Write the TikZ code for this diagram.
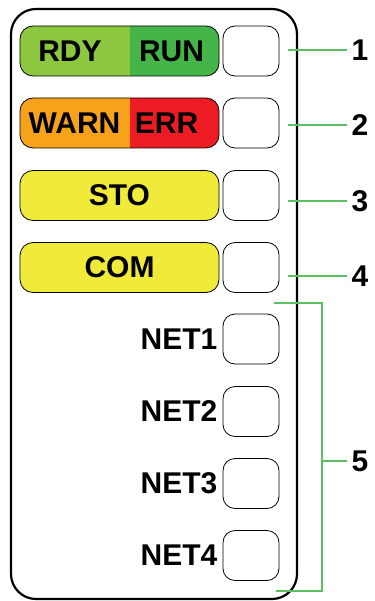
\documentclass[tikz,border=0pt]{standalone}
\usepackage{fontspec}
\setmainfont{Liberation Sans}
\usetikzlibrary{positioning}
\definecolor{rdygreen}{HTML}{8DC63F}
\definecolor{rungreen}{HTML}{45B549}
\definecolor{warnorange}{HTML}{F7A21B}
\definecolor{errred}{HTML}{ED1C24}
\definecolor{ledyellow}{HTML}{F0EA3A}
\definecolor{callout}{HTML}{5CBF60}
\begin{document}
\begin{tikzpicture}[x=1pt,y=-1pt,panel/.style={draw,line width=2.2pt,rounded corners=25pt,minimum width=286pt,minimum height=590pt},pill/.style={draw,line width=0.8pt,rounded corners=13pt,minimum width=199pt,minimum height=50pt,font=\bfseries\fontsize{30}{30}\selectfont},lamp/.style={draw,line width=0.8pt,rounded corners=12pt,minimum width=56pt,minimum height=50pt},txt/.style={font=\bfseries\fontsize{30}{30}\selectfont,inner sep=0pt},num/.style={font=\bfseries\fontsize{30}{30}\selectfont,inner sep=4pt},lead/.style={callout,line width=1.5pt},halves/.style={path picture={\fill[#1,sharp corners] ([xshift=10.5pt]path picture bounding box.north) rectangle (path picture bounding box.south east);}}]
\useasboundingbox (0,0) rectangle (374,601);
\node[panel] (panel) at (154,304) {};
\node[pill,fill=rdygreen,halves=rungreen] (ready) at (119.5,51) {};
\node[txt] (rdy) at (70,51) {RDY};
\node[txt] (run) at (171.5,51) {RUN};
\node[pill,fill=warnorange,halves=errred] (fault) at (119.5,123) {};
\node[txt] (warn) at (74.5,123) {WARN};
\node[txt] (err) at (166.5,123) {ERR};
\node[pill,fill=ledyellow] (sto) at (119.5,195.5) {STO};
\node[pill,fill=ledyellow] (com) at (119.5,267.5) {COM};
\node[lamp] (lamp1) at (251,51) {};
\node[lamp] (lamp2) at (251,123) {};
\node[lamp] (lamp3) at (251,195.5) {};
\node[lamp] (lamp4) at (251,267.5) {};
\node[lamp] (net1) at (251,339) {};
\node[lamp] (net2) at (251,411.5) {};
\node[lamp] (net3) at (251,483.5) {};
\node[lamp] (net4) at (251,555.5) {};
\node[txt,left=5pt of net1] (net1txt) {NET1};
\node[txt,left=5pt of net2] (net2txt) {NET2};
\node[txt,left=5pt of net3] (net3txt) {NET3};
\node[txt,left=5pt of net4] (net4txt) {NET4};
\node[num] (n1) at (360,50) {1};
\node[num] (n2) at (360,125) {2};
\node[num] (n3) at (360,201) {3};
\node[num] (n4) at (360,276) {4};
\node[num] (n5) at (360,461) {5};
\coordinate (c1) at (288,50);
\coordinate (c2) at (288,125);
\coordinate (c3) at (288,201);
\coordinate (c4) at (288,276);
\coordinate (b5top) at (274,303);
\coordinate (b5bot) at (276,591);
\coordinate (b5mid) at (322,461);
\draw[lead] (c1) -- (n1.west);
\draw[lead] (c2) -- (n2.west);
\draw[lead] (c3) -- (n3.west);
\draw[lead] (c4) -- (n4.west);
\draw[lead] (b5top) -| (b5mid) |- (b5bot);
\draw[lead] (b5mid) -- (n5.west);
\end{tikzpicture}
\end{document}
